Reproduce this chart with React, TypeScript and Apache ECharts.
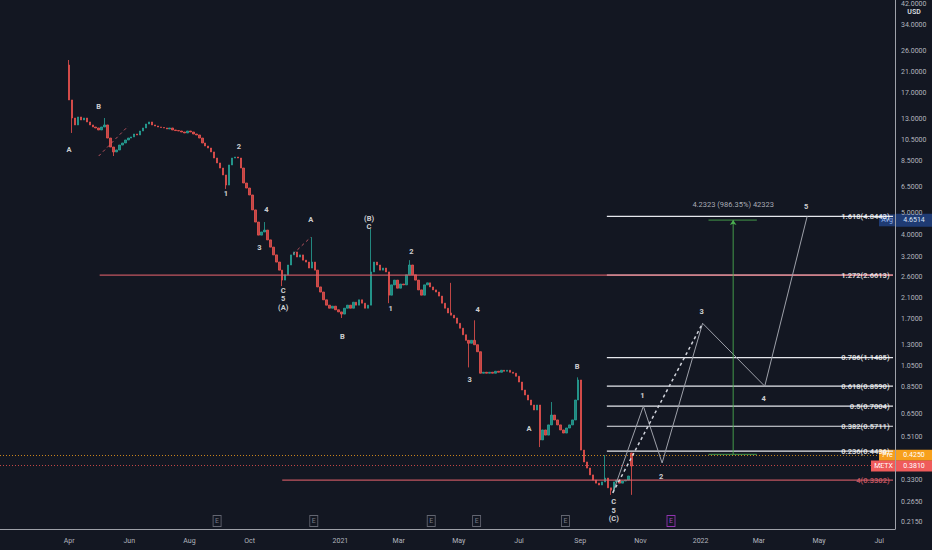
import React, { useEffect, useRef } from "react";
import * as echarts from "echarts";

// ---------- data ----------
const CANDLE_START = "2020-04-01";
const STEP_DAYS = 3;
const firstOpen = 22.6;
const closes2020a = [
  15.84, 13.18, 12.28, 13.32, 12.92, 13.18, 12.66, 12.28, 12.03, 11.91,
  11.67, 12.03, 12.28, 10.75, 9.81, 9.33, 9.52, 10.01, 10.22, 10.54,
  10.75, 10.87, 11.2, 11.09, 11.55, 11.91, 12.4, 12.66, 12.28, 12.15,
];
const closes2020b = [
  12.03, 11.97, 11.91, 11.79, 11.91, 11.67, 11.6, 11.55, 11.43, 11.32,
  11.55, 11.43, 11.2, 11.09, 10.75, 10.22, 9.91, 9.71, 9.33, 8.77,
  8.34, 7.92, 7.38, 6.66, 8.17, 8.77, 8.86, 8.77, 7.92, 6.8,
];
const closes2020c = [
  6.46, 6.02, 5.17, 4.57, 4.0, 4.13, 4.21, 3.81, 3.54, 3.27,
  3.04, 2.8, 2.53, 2.67, 2.95, 3.27, 3.37, 3.2, 3.27, 3.1,
  3.04, 2.86, 3.04, 2.8, 2.36, 2.24, 2.07, 1.96, 1.9, 1.94,
];
const closes2021a = [
  1.87, 1.83, 1.79, 1.9, 1.96, 1.9, 2.02, 1.96, 2.07, 2.0,
  1.9, 1.96, 2.75, 3.04, 2.95, 2.8, 2.86, 2.75, 2.17, 2.41,
  2.53, 2.33, 2.43, 2.41, 2.67, 2.95, 2.67, 2.53, 2.29, 2.17,
];
const closes2021b = [
  2.41, 2.46, 2.36, 2.29, 2.24, 2.15, 2.0, 1.9, 1.81, 1.77,
  1.72, 1.63, 1.55, 1.45, 1.37, 1.33, 1.37, 1.31, 1.22, 0.98,
  0.99, 0.98, 0.99, 0.98, 1.0, 0.99, 1.01, 1.0, 1.01, 0.99,
];
const closes2021c = [
  0.98, 0.95, 0.896, 0.826, 0.785, 0.746, 0.709, 0.674, 0.709, 0.497,
  0.55, 0.522, 0.579, 0.64, 0.609, 0.579, 0.55, 0.533, 0.561, 0.579,
  0.609, 0.746, 0.915, 0.448, 0.397, 0.373, 0.348, 0.33, 0.32, 0.314,
];
const closes2021d = [0.324, 0.337, 0.305, 0.298, 0.324, 0.33, 0.32, 0.327, 0.33, 0.344, 0.381];
const openOverrides: [number, number][] = [[190, 0.435]];
const highWicks: [number, number][] = [
  [0, 23.8], [12, 13.18], [66, 4.57], [82, 3.92], [102, 4.26], [115, 3.1],
  [129, 2.46], [137, 1.68], [163, 0.731], [172, 0.94], [181, 0.426], [190, 0.435],
];
const lowWicks: [number, number][] = [
  [1, 11.32], [15, 8.95], [53, 6.4], [72, 2.38], [92, 1.72], [108, 2.0],
  [135, 1.04], [159, 0.462], [183, 0.284], [190, 0.284],
];

const priceTicks = [42, 34, 26, 21, 17, 13, 10.5, 8.5, 6.5, 5, 4, 3.2, 2.6, 2.1, 1.7, 1.3, 1.05, 0.85, 0.65, 0.51, 0.33, 0.265, 0.215];
const monthTicks = [
  "2020-04-01", "2020-06-01", "2020-08-01", "2020-10-01", "2021-01-01", "2021-03-01", "2021-05-01",
  "2021-07-01", "2021-09-01", "2021-11-01", "2022-01-01", "2022-03-01", "2022-05-01", "2022-07-01",
];
const X_MIN = "2020-01-22";
const X_MAX = "2022-07-17";
const Y_MIN = 0.2006;
const Y_MAX = 43.84;

const fibLevels = ["1.618", "1.272", "0.786", "0.618", "0.5", "0.382", "0.236"];
const fibPrices = [4.8443, 2.6613, 1.1485, 0.859, 0.7004, 0.5711, 0.4436];
const fibStart = "2021-09-28";
const fibEnd = "2022-07-15";
const fibLabelDate = "2022-07-12";
const rayStarts = ["2020-05-02", "2020-11-03"];
const rayPrices = [2.6613, 0.3302];
const rayLabel = "4(0.3302)";

const projDates = ["2021-10-04", "2021-11-04", "2021-11-23", "2022-01-03", "2022-03-07", "2022-04-19"];
const projPrices = [0.29, 0.7004, 0.393, 1.63, 0.859, 4.844];

const measureDate = "2022-02-03";
const measureCap = ["2022-01-09", "2022-02-27"];
const measureFrom = 0.4291;
const measureTo = 4.6614;
const measureText = "4.2323 (986.35%) 42323";
const measureTextPrice = 5.44;

const trendLines: [string, number][][] = [
  [["2020-05-01", 8.95], ["2020-05-31", 12.15]],
  [["2020-11-14", 3.3], ["2020-12-02", 3.92]],
];

const waveLabels: [string, string, number][] = [
  ["2020-04-01", "A", 9.52],
  ["2020-05-01", "B", 14.75],
  ["2020-09-07", "1", 6.14],
  ["2020-09-20", "2", 9.91],
  ["2020-10-11", "3", 3.54],
  ["2020-10-18", "4", 5.17],
  ["2020-11-04", "C\n5\n(A)", 2.09],
  ["2020-12-02", "A", 4.67],
  ["2021-01-03", "B", 1.42],
  ["2021-01-30", "(B)\nC", 4.55],
  ["2021-02-21", "1", 1.89],
  ["2021-03-14", "2", 3.4],
  ["2021-05-12", "3", 0.915],
  ["2021-05-20", "4", 1.87],
  ["2021-07-11", "A", 0.561],
  ["2021-08-29", "B", 1.05],
  ["2021-10-05", "C\n5\n(C)", 0.243],
  ["2021-11-03", "1", 0.785],
  ["2021-11-22", "2", 0.344],
  ["2022-01-02", "3", 1.83],
  ["2022-03-06", "4", 0.754],
  ["2022-04-18", "5", 5.33],
];

const earningsDates = ["2020-08-29", "2020-12-05", "2021-04-03", "2021-05-19", "2021-08-17", "2021-12-02"];
const earningsRowPrice = 0.2177;

const avgPrice = 4.6514;
const prePrice = 0.425;
const lastPrice = 0.381;

// ---------- helpers ----------
const DAY = 86400000;
const ts = (s: string) => {
  const [y, m, d] = s.split("-").map(Number);
  return Date.UTC(y, m - 1, d);
};
const ln = Math.log;
const MONTHS = ["Jan", "Feb", "Mar", "Apr", "May", "Jun", "Jul", "Aug", "Sep", "Oct", "Nov", "Dec"];
const FONT = "Roboto, 'Noto Sans', sans-serif";

function buildCandles() {
  const closes = [...closes2020a, ...closes2020b, ...closes2020c, ...closes2021a, ...closes2021b, ...closes2021c, ...closes2021d];
  const om = new Map(openOverrides);
  const hm = new Map(highWicks);
  const lm = new Map(lowWicks);
  const t0 = ts(CANDLE_START);
  return closes.map((c, i) => {
    const o = om.has(i) ? (om.get(i) as number) : i === 0 ? firstOpen : closes[i - 1];
    const h = hm.has(i) ? (hm.get(i) as number) : Math.max(o, c);
    const l = lm.has(i) ? (lm.get(i) as number) : Math.min(o, c);
    return [t0 + i * STEP_DAYS * DAY, ln(o), ln(c), ln(l), ln(h)];
  });
}

function seg(points: [string, number][], lineStyle: any, z = 3) {
  return {
    type: "line",
    data: points.map(([d, p]) => [ts(d), ln(p)]),
    symbol: "none",
    silent: true,
    lineStyle,
    z,
  };
}

export default function App() {
  const ref = useRef<HTMLDivElement>(null);
  useEffect(() => {
    if (!ref.current) return;
    const chart = echarts.init(ref.current, null, { renderer: "svg" });
    const series: any[] = [];

    series.push({
      type: "candlestick",
      name: "METX",
      data: buildCandles(),
      barWidth: 2,
      z: 4,
      itemStyle: {
        color: "#26a69a",
        color0: "#ef5350",
        borderColor: "#26a69a",
        borderColor0: "#ef5350",
        opacity: 0.78,
      },
      markLine: {
        silent: true,
        symbol: ["none", "none"],
        label: { show: false },
        data: [
          { yAxis: ln(prePrice), lineStyle: { color: "#f7a01c", type: [1, 2], width: 1, opacity: 0.8 } },
          { yAxis: ln(lastPrice), lineStyle: { color: "#ef5350", type: [1, 2], width: 1, opacity: 0.8 } },
        ],
      },
    });

    // fib lines
    fibPrices.forEach((p) => {
      series.push(seg([[fibStart, p], [fibEnd, p]], { color: "#e6e8ee", width: 1.2 }, 3));
    });
    // red horizontal rays
    rayStarts.forEach((d, i) => {
      series.push(seg([[d, rayPrices[i]], [fibEnd, rayPrices[i]]], { color: "#e0606b", width: 1.2, opacity: 0.85 }, 5));
    });
    // fib labels
    series.push({
      type: "scatter",
      silent: true,
      symbolSize: 1,
      itemStyle: { color: "rgba(0,0,0,0)" },
      z: 6,
      data: [
        ...fibPrices.map((p, i) => ({
          value: [ts(fibLabelDate), ln(p)],
          label: { formatter: `${fibLevels[i]}(${p.toFixed(4)})` },
        })),
        {
          value: [ts(fibLabelDate), ln(rayPrices[1])],
          label: { formatter: rayLabel, color: "#e0606b" },
        },
      ],
      label: {
        show: true,
        position: "left",
        distance: 0,
        color: "#ffffff",
        fontSize: 7.5,
        fontWeight: "bold",
        fontFamily: FONT,
      },
    });

    // trend dashes
    trendLines.forEach((tl) => series.push(seg(tl, { color: "#e0606b", width: 1, type: [3, 3], opacity: 0.8 }, 5)));

    // projection
    series.push(seg(projDates.map((d, i) => [d, projPrices[i]] as [string, number]), { color: "#9ea1aa", width: 1 }, 5));
    series.push(seg([[projDates[0], projPrices[0]], [projDates[3], projPrices[3]]], { color: "#d1d4dc", width: 1.5, type: [3, 3] }, 5));

    // measure
    series.push({
      type: "line",
      silent: true,
      z: 5,
      showSymbol: true,
      lineStyle: { color: "#4caf50", width: 1, opacity: 0.85 },
      itemStyle: { color: "#4caf50" },
      data: [
        { value: [ts(measureDate), ln(measureFrom)], symbol: "none" },
        { value: [ts(measureDate), ln(measureTo)], symbol: "arrow", symbolSize: [5, 5] },
      ],
    });
    series.push(seg([[measureCap[0], measureTo], [measureCap[1], measureTo]], { color: "#4caf50", width: 1, opacity: 0.85 }, 5));
    series.push(seg([[measureCap[0], measureFrom], [measureCap[1], measureFrom]], { color: "#4caf50", width: 1, opacity: 0.85 }, 5));

    // text labels (waves + measure)
    series.push({
      type: "scatter",
      silent: true,
      symbolSize: 1,
      itemStyle: { color: "rgba(0,0,0,0)" },
      z: 7,
      data: [
        ...waveLabels.map(([d, t, p]) => ({ value: [ts(d), ln(p)], label: { formatter: t } })),
        {
          value: [ts(measureDate), ln(measureTextPrice)],
          label: { formatter: measureText, fontWeight: "normal", color: "#d1d4dc", fontSize: 7.5 },
        },
      ],
      label: {
        show: true,
        position: "inside",
        color: "#ffffff",
        fontSize: 7.5,
        fontWeight: "bold",
        lineHeight: 8.5,
        fontFamily: FONT,
      },
    });

    // earnings markers
    series.push({
      type: "scatter",
      silent: true,
      symbol: "rect",
      symbolSize: [8, 11],
      z: 7,
      itemStyle: { color: "rgba(0,0,0,0)", borderColor: "#787b86", borderWidth: 1 },
      label: { show: true, position: "inside", formatter: "E", color: "#9598a1", fontSize: 7, fontFamily: FONT },
      data: earningsDates.map((d, i) =>
        i === earningsDates.length - 1
          ? {
              value: [ts(d), ln(earningsRowPrice)],
              itemStyle: { borderColor: "#b43cd6" },
              label: { color: "#c056e0" },
            }
          : { value: [ts(d), ln(earningsRowPrice)] }
      ),
    });

    const axisColor = "#9ea1a9";
    const option: any = {
      animation: false,
      backgroundColor: "#131722",
      textStyle: { fontFamily: FONT },
      grid: { left: 0, right: 37, top: 0, bottom: 21, containLabel: false, outerBoundsMode: "none" },
      xAxis: {
        type: "value",
        min: ts(X_MIN),
        max: ts(X_MAX),
        axisLine: { show: true, onZero: false, lineStyle: { color: axisColor, width: 1 } },
        axisTick: { show: false },
        splitLine: { show: false },
        axisLabel: {
          customValues: monthTicks.map(ts),
          formatter: (v: number) => {
            const d = new Date(v);
            return d.getUTCMonth() === 0 ? String(d.getUTCFullYear()) : MONTHS[d.getUTCMonth()];
          },
          color: "#b2b5be",
          fontSize: 7,
          margin: 8,
          fontFamily: FONT,
        },
      },
      yAxis: {
        type: "value",
        position: "right",
        min: ln(Y_MIN),
        max: ln(Y_MAX),
        axisLine: { show: true, onZero: false, lineStyle: { color: axisColor, width: 1 } },
        axisTick: { show: false },
        splitLine: { show: false },
        axisLabel: {
          customValues: priceTicks.map(ln),
          formatter: (v: number) => Math.exp(v).toFixed(4),
          color: "#b2b5be",
          fontSize: 7,
          margin: 6,
          fontFamily: FONT,
        },
      },
      series,
    };
    chart.setOption(option);

    const yp = (p: number) => chart.convertToPixel({ yAxisIndex: 0 }, ln(p)) as number;
    const badge = (y: number, x: number, w: number, h: number, fill: string, text: string, color: string) => ({
      type: "group",
      z: 100,
      children: [
        { type: "rect", shape: { x, y: y - h / 2, width: w, height: h }, style: { fill } },
        {
          type: "text",
          x: x + w / 2,
          y,
          style: { text, fill: color, fontSize: 7, fontFamily: FONT, align: "center", verticalAlign: "middle" },
        },
      ],
    });
    const yAvg = yp(avgPrice);
    const yPre = yp(prePrice);
    const yLast = yp(lastPrice);
    chart.setOption({
      graphic: [
        badge(yAvg, 879, 16, 12, "#1f3b73", "Avg", "#8fb0e8"),
        badge(yAvg, 896, 36, 13, "#1f3b73", avgPrice.toFixed(4), "#dbe4f5"),
        badge(yPre, 879, 17, 11, "#f59d1c", "Pre", "#ffffff"),
        badge(yPre, 896, 36, 11, "#f7a01c", prePrice.toFixed(4), "#ffffff"),
        badge(yLast, 871, 25, 11, "#ef5b5b", "METX", "#ffffff"),
        badge(yLast, 896, 36, 11, "#ef5b5b", lastPrice.toFixed(4), "#ffffff"),
        {
          type: "group",
          z: 100,
          children: [
            { type: "rect", shape: { x: 900, y: 6, width: 28, height: 11 }, style: { fill: "#131722" } },
            {
              type: "text",
              x: 914,
              y: 11.5,
              style: { text: "USD", fill: "#d1d4dc", fontSize: 7, fontWeight: "bold", fontFamily: FONT, align: "center", verticalAlign: "middle" },
            },
          ],
        },
      ],
    });

    return () => chart.dispose();
  }, []);

  return (
    <div
      ref={ref}
      style={{ position: "fixed", left: 0, top: 0, width: 932, height: 550, background: "#131722" }}
    />
  );
}
